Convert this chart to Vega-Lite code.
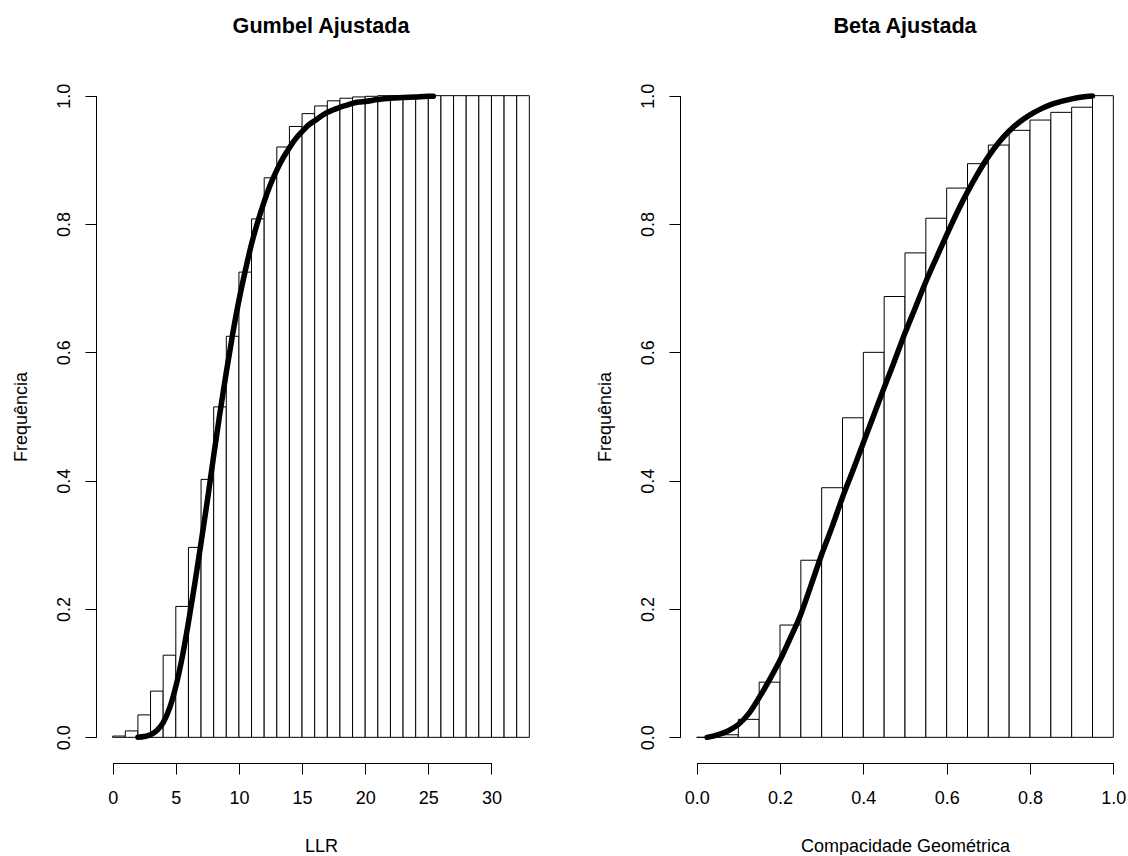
{
  "$schema": "https://vega.github.io/schema/vega-lite/v6.json",
  "background": "white",
  "padding": {"left": 12, "top": 16, "right": 5, "bottom": 0},
  "spacing": 50,
  "config": {
    "view": {"stroke": null},
    "font": "Liberation Sans",
    "axis": {
      "grid": false,
      "domainColor": "black",
      "tickColor": "black",
      "labelColor": "black",
      "titleColor": "black",
      "labelFont": "Liberation Sans",
      "titleFont": "Liberation Sans",
      "labelFontSize": 18,
      "titleFontSize": 18,
      "titleFontWeight": "normal",
      "tickSize": 11,
      "domainWidth": 1,
      "tickWidth": 1,
      "labelFlush": false,
      "labelOverlap": false
    },
    "title": {"fontSize": 21.6, "fontWeight": "bold", "color": "black", "font": "Liberation Sans", "anchor": "middle", "offset": 32}
  },
  "datasets": {
    "gbars": [
      {"a": 0, "b": 1, "f": 0.002}, {"a": 1, "b": 2, "f": 0.010}, {"a": 2, "b": 3, "f": 0.035},
      {"a": 3, "b": 4, "f": 0.072}, {"a": 4, "b": 5, "f": 0.128}, {"a": 5, "b": 6, "f": 0.204},
      {"a": 6, "b": 7, "f": 0.296}, {"a": 7, "b": 8, "f": 0.402}, {"a": 8, "b": 9, "f": 0.515},
      {"a": 9, "b": 10, "f": 0.625}, {"a": 10, "b": 11, "f": 0.725}, {"a": 11, "b": 12, "f": 0.808},
      {"a": 12, "b": 13, "f": 0.872}, {"a": 13, "b": 14, "f": 0.920}, {"a": 14, "b": 15, "f": 0.952},
      {"a": 15, "b": 16, "f": 0.972}, {"a": 16, "b": 17, "f": 0.984}, {"a": 17, "b": 18, "f": 0.992},
      {"a": 18, "b": 19, "f": 0.996}, {"a": 19, "b": 20, "f": 0.998}, {"a": 20, "b": 21, "f": 0.999},
      {"a": 21, "b": 22, "f": 1.0}, {"a": 22, "b": 23, "f": 1.0}, {"a": 23, "b": 24, "f": 1.0},
      {"a": 24, "b": 25, "f": 1.0}, {"a": 25, "b": 26, "f": 1.0}, {"a": 26, "b": 27, "f": 1.0},
      {"a": 27, "b": 28, "f": 1.0}, {"a": 28, "b": 29, "f": 1.0}, {"a": 29, "b": 30, "f": 1.0},
      {"a": 30, "b": 31, "f": 1.0}, {"a": 31, "b": 32, "f": 1.0}, {"a": 32, "b": 33, "f": 1.0}
    ],
    "gcurve": [
      {"x": 2, "F": 0.0003}, {"x": 2.5, "F": 0.0013}, {"x": 3, "F": 0.004}, {"x": 3.5, "F": 0.0105},
      {"x": 4, "F": 0.023}, {"x": 4.5, "F": 0.045}, {"x": 5, "F": 0.079}, {"x": 5.5, "F": 0.124},
      {"x": 6, "F": 0.179}, {"x": 6.5, "F": 0.239}, {"x": 7, "F": 0.303}, {"x": 7.5, "F": 0.369},
      {"x": 8, "F": 0.439}, {"x": 8.5, "F": 0.506}, {"x": 9, "F": 0.569}, {"x": 9.5, "F": 0.628},
      {"x": 10, "F": 0.681}, {"x": 10.5, "F": 0.727}, {"x": 11, "F": 0.769}, {"x": 11.5, "F": 0.804},
      {"x": 12, "F": 0.835}, {"x": 12.5, "F": 0.862}, {"x": 13, "F": 0.884}, {"x": 13.5, "F": 0.903},
      {"x": 14, "F": 0.919}, {"x": 14.5, "F": 0.933}, {"x": 15, "F": 0.944}, {"x": 15.5, "F": 0.954},
      {"x": 16, "F": 0.961}, {"x": 16.5, "F": 0.968}, {"x": 17, "F": 0.974}, {"x": 17.5, "F": 0.978},
      {"x": 18, "F": 0.982}, {"x": 18.5, "F": 0.985}, {"x": 19, "F": 0.988}, {"x": 19.5, "F": 0.990},
      {"x": 20, "F": 0.991}, {"x": 21, "F": 0.994}, {"x": 22, "F": 0.996}, {"x": 23, "F": 0.997},
      {"x": 24, "F": 0.998}, {"x": 25, "F": 0.999}, {"x": 25.4, "F": 0.999}
    ],
    "bbars": [
      {"a": 0.0, "b": 0.05, "f": 0.0}, {"a": 0.05, "b": 0.1, "f": 0.004}, {"a": 0.1, "b": 0.15, "f": 0.028},
      {"a": 0.15, "b": 0.2, "f": 0.086}, {"a": 0.2, "b": 0.25, "f": 0.175}, {"a": 0.25, "b": 0.3, "f": 0.276},
      {"a": 0.3, "b": 0.35, "f": 0.389}, {"a": 0.35, "b": 0.4, "f": 0.498}, {"a": 0.4, "b": 0.45, "f": 0.600},
      {"a": 0.45, "b": 0.5, "f": 0.687}, {"a": 0.5, "b": 0.55, "f": 0.755}, {"a": 0.55, "b": 0.6, "f": 0.809},
      {"a": 0.6, "b": 0.65, "f": 0.856}, {"a": 0.65, "b": 0.7, "f": 0.894}, {"a": 0.7, "b": 0.75, "f": 0.923},
      {"a": 0.75, "b": 0.8, "f": 0.946}, {"a": 0.8, "b": 0.85, "f": 0.962}, {"a": 0.85, "b": 0.9, "f": 0.974},
      {"a": 0.9, "b": 0.95, "f": 0.982}, {"a": 0.95, "b": 1.0, "f": 1.0}
    ],
    "bcurve": [
      {"x": 0.025, "F": 0.0}, {"x": 0.05, "F": 0.004}, {"x": 0.075, "F": 0.010}, {"x": 0.1, "F": 0.020},
      {"x": 0.125, "F": 0.037}, {"x": 0.15, "F": 0.062}, {"x": 0.175, "F": 0.090}, {"x": 0.2, "F": 0.120},
      {"x": 0.225, "F": 0.155}, {"x": 0.25, "F": 0.192}, {"x": 0.275, "F": 0.238}, {"x": 0.3, "F": 0.285},
      {"x": 0.325, "F": 0.328}, {"x": 0.35, "F": 0.374}, {"x": 0.375, "F": 0.416}, {"x": 0.4, "F": 0.459},
      {"x": 0.425, "F": 0.502}, {"x": 0.45, "F": 0.545}, {"x": 0.475, "F": 0.587}, {"x": 0.5, "F": 0.630},
      {"x": 0.525, "F": 0.670}, {"x": 0.55, "F": 0.710}, {"x": 0.575, "F": 0.747}, {"x": 0.6, "F": 0.783},
      {"x": 0.625, "F": 0.818}, {"x": 0.65, "F": 0.850}, {"x": 0.675, "F": 0.879}, {"x": 0.7, "F": 0.905},
      {"x": 0.725, "F": 0.927}, {"x": 0.75, "F": 0.945}, {"x": 0.775, "F": 0.959}, {"x": 0.8, "F": 0.970},
      {"x": 0.825, "F": 0.979}, {"x": 0.85, "F": 0.986}, {"x": 0.875, "F": 0.991}, {"x": 0.9, "F": 0.995},
      {"x": 0.925, "F": 0.998}, {"x": 0.95, "F": 0.9995}
    ]
  },
  "hconcat": [
    {
      "width": 450,
      "height": 693,
      "title": {"text": "Gumbel Ajustada"},
      "layer": [
        {
          "data": {"name": "gbars"},
          "mark": {"type": "rect", "fill": "white", "stroke": "black", "strokeWidth": 1},
          "encoding": {
            "x": {"field": "a", "type": "quantitative", "title": "LLR",
                  "scale": {"domain": [-1.32, 34.32], "nice": false, "zero": false},
                  "axis": {"values": [0, 5, 10, 15, 20, 25, 30], "domainDash": [0, 16.67, 378.8, 2000], "labelPadding": 15, "titlePadding": 30}},
            "x2": {"field": "b"},
            "y": {"field": "f", "type": "quantitative", "title": "Frequência",
                  "scale": {"domain": [-0.04, 1.04], "nice": false, "zero": false},
                  "axis": {"values": [0, 0.2, 0.4, 0.6, 0.8, 1.0], "format": ".1f", "labelAngle": -90, "labelAlign": "center", "labelBaseline": "bottom", "labelPadding": 12, "titlePadding": 25, "domainDash": [0, 25.67, 641.67, 2000]}},
            "y2": {"datum": 0}
          }
        },
        {
          "data": {"name": "gcurve"},
          "mark": {"type": "line", "color": "black", "strokeWidth": 5.5, "interpolate": "monotone", "strokeCap": "round", "strokeJoin": "round"},
          "encoding": {
            "x": {"field": "x", "type": "quantitative", "title": "LLR"},
            "y": {"field": "F", "type": "quantitative", "title": "Frequência"}
          }
        }
      ]
    },
    {
      "width": 450,
      "height": 693,
      "title": {"text": "Beta Ajustada"},
      "layer": [
        {
          "data": {"name": "bbars"},
          "mark": {"type": "rect", "fill": "white", "stroke": "black", "strokeWidth": 1},
          "encoding": {
            "x": {"field": "a", "type": "quantitative", "title": "Compacidade Geométrica",
                  "scale": {"domain": [-0.04, 1.04], "nice": false, "zero": false},
                  "axis": {"values": [0, 0.2, 0.4, 0.6, 0.8, 1.0], "format": ".1f", "domainDash": [0, 16.67, 416.7, 2000], "labelPadding": 15, "titlePadding": 30}},
            "x2": {"field": "b"},
            "y": {"field": "f", "type": "quantitative", "title": "Frequência",
                  "scale": {"domain": [-0.04, 1.04], "nice": false, "zero": false},
                  "axis": {"values": [0, 0.2, 0.4, 0.6, 0.8, 1.0], "format": ".1f", "labelAngle": -90, "labelAlign": "center", "labelBaseline": "bottom", "labelPadding": 12, "titlePadding": 25, "domainDash": [0, 25.67, 641.67, 2000]}},
            "y2": {"datum": 0}
          }
        },
        {
          "data": {"name": "bcurve"},
          "mark": {"type": "line", "color": "black", "strokeWidth": 5.5, "interpolate": "monotone", "strokeCap": "round", "strokeJoin": "round"},
          "encoding": {
            "x": {"field": "x", "type": "quantitative", "title": "Compacidade Geométrica"},
            "y": {"field": "F", "type": "quantitative", "title": "Frequência"}
          }
        }
      ]
    }
  ]
}
